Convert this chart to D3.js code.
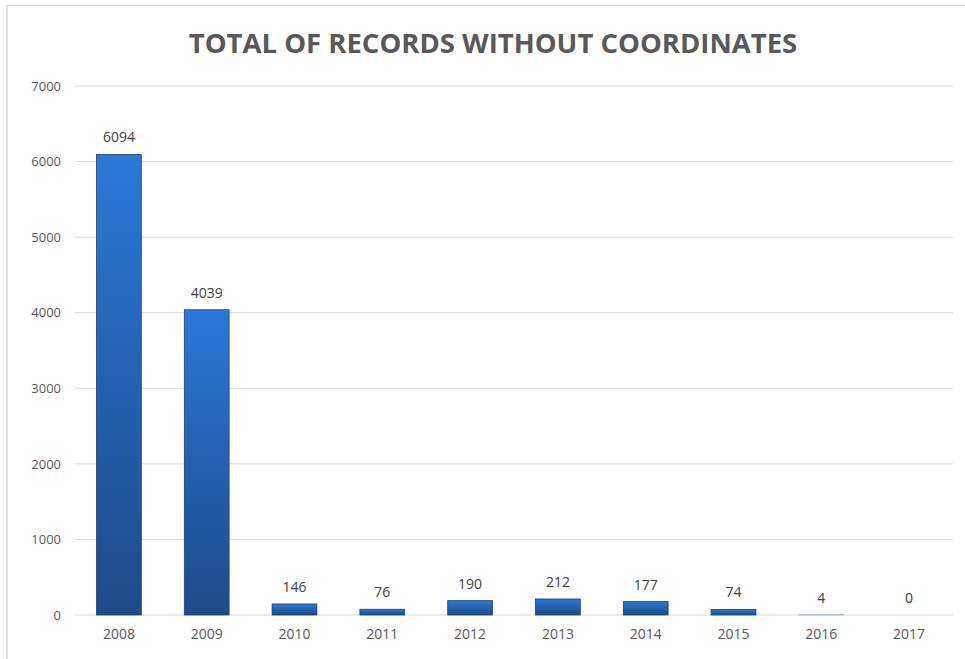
<!DOCTYPE html>
<html>
<head>
<meta charset="utf-8">
<script src="https://cdn.jsdelivr.net/npm/d3@7"></script>
<style>
  body { margin: 0; background: #fff; }
  text { font-family: "Open Sans", "Noto Sans", sans-serif; }
</style>
</head>
<body>
<div id="chart"></div>
<script>
var years = ["2008","2009","2010","2011","2012","2013","2014","2015","2016","2017"];
var records = [6094, 4039, 146, 76, 190, 212, 177, 74, 4, 0];
var yTicks = [0, 1000, 2000, 3000, 4000, 5000, 6000, 7000];

var width = 965, height = 659;
var margin = {top: 86, right: 12, bottom: 44, left: 75};

var svg = d3.select("#chart")
  .append("svg")
  .attr("width", width)
  .attr("height", height);

// outer frame (top + left only visible)
svg.append("path")
  .attr("d", "M7,659 V5.5 H965")
  .attr("fill", "none")
  .attr("stroke", "#d9d9d9")
  .attr("stroke-width", 1.5);

var defs = svg.append("defs");
var grad = defs.append("linearGradient")
  .attr("id", "barGrad")
  .attr("x1", 0).attr("y1", 0).attr("x2", 0).attr("y2", 1);
grad.append("stop").attr("offset", "0%").attr("stop-color", "#2b78d8");
grad.append("stop").attr("offset", "100%").attr("stop-color", "#1d4b87");

var x = d3.scaleBand()
  .domain(years)
  .range([margin.left, width - margin.right])
  .paddingInner(0.49)
  .paddingOuter(0.245);

var y = d3.scaleLinear()
  .domain([0, 7000])
  .range([height - margin.bottom, margin.top]);

// grid
svg.append("g")
  .selectAll("line")
  .data(yTicks)
  .enter().append("line")
  .attr("x1", margin.left)
  .attr("x2", width - margin.right)
  .attr("y1", function(d) { return y(d); })
  .attr("y2", function(d) { return y(d); })
  .attr("stroke", "#d9d9d9")
  .attr("stroke-width", 1);

// y axis labels
var yAxis = d3.axisLeft(y).tickValues(yTicks).tickFormat(d3.format("d")).tickSize(0).tickPadding(0);
var gy = svg.append("g")
  .attr("transform", "translate(61,0)")
  .call(yAxis);
gy.select(".domain").remove();
gy.selectAll("text")
  .attr("fill", "#595959")
  .style("font-size", "13px");

// x axis labels
var xAxis = d3.axisBottom(x).tickSize(0).tickPadding(14);
var gx = svg.append("g")
  .attr("transform", "translate(0," + (height - margin.bottom) + ")")
  .call(xAxis);
gx.select(".domain").remove();
gx.selectAll("text")
  .attr("fill", "#595959")
  .style("font-size", "14px");

// bars
svg.append("g")
  .selectAll("rect")
  .data(records)
  .enter().append("rect")
  .attr("x", function(d, i) { return x(years[i]); })
  .attr("y", function(d) { return y(d); })
  .attr("width", x.bandwidth())
  .attr("height", function(d) { return y(0) - y(d); })
  .attr("fill", "url(#barGrad)")
  .attr("stroke", function(d) { return d > 10 ? "#1a3f73" : "#9fb9dc"; })
  .attr("stroke-width", 0.8);

// value labels
svg.append("g")
  .selectAll("text")
  .data(records)
  .enter().append("text")
  .attr("x", function(d, i) { return x(years[i]) + x.bandwidth() / 2; })
  .attr("y", function(d) { return y(d) - 12; })
  .attr("text-anchor", "middle")
  .attr("fill", "#404040")
  .style("font-size", "14px")
  .text(function(d) { return d; });

// title
svg.append("text")
  .attr("x", 493)
  .attr("y", 53)
  .attr("text-anchor", "middle")
  .attr("fill", "#595959")
  .style("font-size", "27.5px")
  .style("font-weight", "bold")
  .text("TOTAL OF RECORDS WITHOUT COORDINATES");
</script>
</body>
</html>
